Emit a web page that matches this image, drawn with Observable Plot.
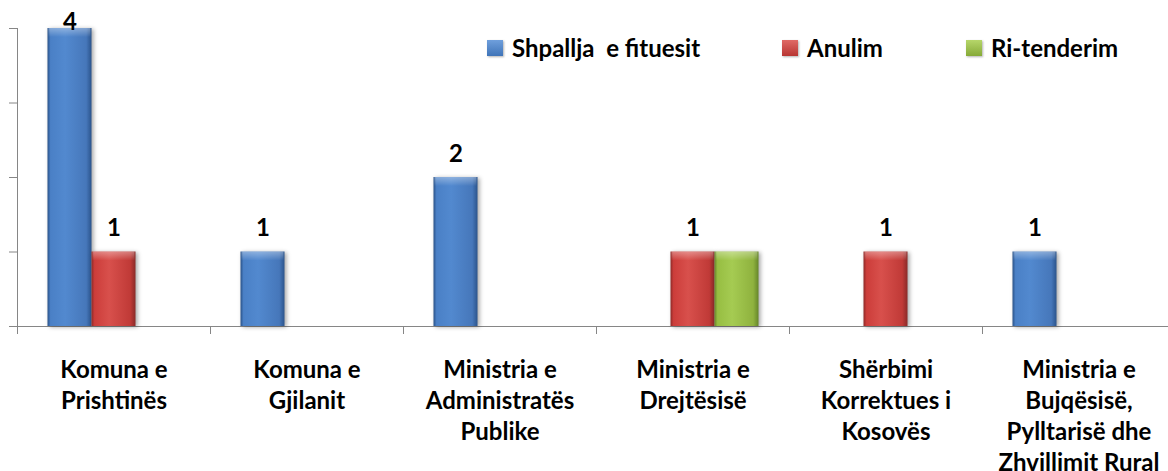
<!DOCTYPE html>
<html>
<head>
<meta charset="utf-8">
<script src="https://cdn.jsdelivr.net/npm/d3@7"></script>
<script src="https://cdn.jsdelivr.net/npm/@observablehq/plot@0.6"></script>
<style>
  html, body { margin: 0; padding: 0; background: #fff; }
  #wrap { position: relative; width: 1168px; height: 471px; overflow: hidden; font-family: Lato, "Open Sans", sans-serif; }
  .lg { position: absolute; top: 33px; display: flex; align-items: center; font-weight: bold; font-size: 24px; color: #000; white-space: pre; }
  .sw { width: 16px; height: 16px; margin-right: 9px; box-shadow: 1px 1px 2px rgba(0,0,0,0.3); }
</style>
</head>
<body>
<div id="wrap"></div>
<script>
// ---- data ----
const categories = [
  "Komuna e Prishtinës",
  "Komuna e Gjilanit",
  "Ministria e Administratës Publike",
  "Ministria e Drejtësisë",
  "Shërbimi Korrektues i Kosovës",
  "Ministria e Bujqësisë, Pylltarisë dhe Zhvillimit Rural"
];
const tickLabels = [
  "Komuna e\nPrishtinës",
  "Komuna e\nGjilanit",
  "Ministria e\nAdministratës\nPublike",
  "Ministria e\nDrejtësisë",
  "Shërbimi\nKorrektues i\nKosovës",
  "Ministria e\nBujqësisë,\nPylltarisë dhe\nZhvillimit Rural"
];
const seriesNames = ["Shpallja  e fituesit", "Anulim", "Ri-tenderim"];
const shpallja   = [4, 1, 2, 0, 0, 1];
const anulim     = [1, 0, 0, 1, 1, 0];
const ritenderim = [0, 0, 0, 1, 0, 0];
const labelledSeries = [true, true, false];
const yTicks = [0, 1, 2, 3, 4];

const seriesValues = [shpallja, anulim, ritenderim];
const gradIds = ["gBlue", "gRed", "gGreen"];
const swatch = [
  "linear-gradient(#6f9fdc, #3f74b8)",
  "linear-gradient(#e06a66, #b83532)",
  "linear-gradient(#b6d66a, #86aa38)"
];

// ---- layout ----
const W = 1168, H = 471;
const mL = 17, mR = -7, mT = 28, mB = 145;
const band = (W - mL - mR) / categories.length;
const barW = 44;
const outer = (band - barW * seriesNames.length) / 2;
const labelMap = new Map(categories.map((c, i) => [c, tickLabels[i]]));

const marks = [];
marks.push(Plot.axisY({ticks: yTicks, tickSize: 8, tickFormat: () => "", stroke: "#868686", strokeOpacity: 1, label: null}));
marks.push(Plot.frame({anchor: "left", stroke: "#868686"}));
marks.push(Plot.ruleY([0], {stroke: "#868686", strokeWidth: 1.2}));
marks.push(Plot.ruleX(categories, {x: d => d, y1: 0, y2: 0, insetBottom: -8, dx: -band / 2, stroke: "#868686"}));

seriesValues.forEach((vals, s) => {
  const data = categories.map((c, i) => ({category: c, value: vals[i]})).filter(d => d.value > 0);
  const inL = outer + s * barW;
  const inR = band - outer - (s + 1) * barW;
  marks.push(Plot.barY(data, {x: "category", y: "value", insetLeft: inL, insetRight: inR, fill: `url(#${gradIds[s]})`, className: "bars"}));
  marks.push(Plot.barY(data, {x: "category", y1: "value", y2: "value", insetLeft: inL + 1, insetRight: inR + 1, insetBottom: -9, fill: "url(#bevel)"}));
  if (labelledSeries[s]) {
    const dxs = (s - (seriesNames.length - 1) / 2) * barW;
    const top = d3.max(yTicks);
    marks.push(Plot.text(data.filter(d => d.value < top), {x: "category", y: "value", text: d => String(d.value), dx: dxs, dy: -16, lineAnchor: "bottom", fontSize: 24, fontWeight: "bold", fill: "#000"}));
    marks.push(Plot.text(data.filter(d => d.value >= top), {x: "category", y: "value", text: d => String(d.value), dx: dxs, dy: 1, lineAnchor: "bottom", fontSize: 24, fontWeight: "bold", fill: "#000"}));
  }
});

marks.push(Plot.axisX({tickSize: 0, tickPadding: 29, tickFormat: d => labelMap.get(d), fontSize: 24, fontWeight: "bold", lineHeight: 1.3, fill: "#000", label: null, textOverflow: null}));

const chart = Plot.plot({
  width: W, height: H,
  marginLeft: mL, marginRight: mR, marginTop: mT, marginBottom: mB,
  style: {fontFamily: "Lato, 'Open Sans', sans-serif", background: "#fff", overflow: "visible"},
  x: {domain: categories, padding: 0, axis: null},
  y: {domain: [0, 4], axis: null},
  marks
});

// gradients
const defs = d3.select(chart).insert("defs", ":first-child");
const grads = [
  ["gBlue", ["#2a5288", "#4a80c6", "#5289cf", "#4677ba", "#2b548c"]],
  ["gRed", ["#8e2a28", "#cc3d3a", "#d8504c", "#c03a37", "#8a2a28"]],
  ["gGreen", ["#66862a", "#97be42", "#a5cb52", "#8fb23e", "#66862a"]]
];
grads.forEach(([id, c]) => {
  const g = defs.append("linearGradient").attr("id", id).attr("x1", 0).attr("x2", 1).attr("y1", 0).attr("y2", 0);
  [[0, c[0]], [0.07, c[1]], [0.4, c[2]], [0.88, c[3]], [1, c[4]]].forEach(([o, col]) =>
    g.append("stop").attr("offset", o).attr("stop-color", col));
});
const bv = defs.append("linearGradient").attr("id", "bevel").attr("x1", 0).attr("x2", 0).attr("y1", 0).attr("y2", 1);
bv.append("stop").attr("offset", 0).attr("stop-color", "#fff").attr("stop-opacity", 0.35);
bv.append("stop").attr("offset", 1).attr("stop-color", "#fff").attr("stop-opacity", 0);
d3.select(chart).selectAll(".bars").style("filter", "drop-shadow(2px 1px 2px rgba(0,0,0,0.35))");

const wrap = document.getElementById("wrap");
wrap.appendChild(chart);

// legend
const legendLeft = [487, 782, 966];
seriesNames.forEach((name, i) => {
  const item = document.createElement("div");
  item.className = "lg";
  item.style.left = legendLeft[i] + "px";
  const sw = document.createElement("span");
  sw.className = "sw";
  sw.style.background = swatch[i];
  const tx = document.createElement("span");
  tx.textContent = name;
  item.appendChild(sw);
  item.appendChild(tx);
  wrap.appendChild(item);
});
</script>
</body>
</html>
